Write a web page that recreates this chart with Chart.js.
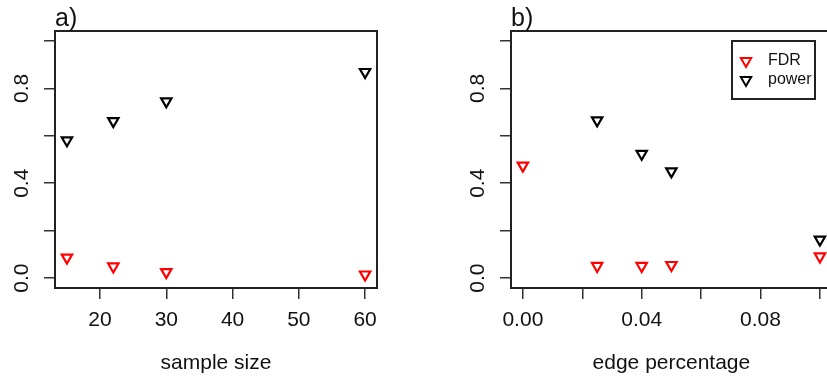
<!DOCTYPE html>
<html>
<head>
<meta charset="utf-8">
<script src="https://cdn.jsdelivr.net/npm/chart.js@4.4.1/dist/chart.umd.min.js"></script>
<style>
  html, body { margin: 0; padding: 0; background: #fff; overflow: hidden; }
  #wrap { position: relative; width: 827px; height: 381px; overflow: hidden; background: #fff; }
  #chartA { position: absolute; left: 0; top: 0; }
  #chartB { position: absolute; left: 420px; top: 0; }
</style>
</head>
<body>
<div id="wrap">
  <canvas id="chartA" width="420" height="381"></canvas>
  <canvas id="chartB" width="420" height="381"></canvas>
</div>
<script>
// panel a) : sample size
var sampleSize = [15, 22, 30, 60];
var fdrA = [0.086, 0.049, 0.025, 0.015];
var powerA = [0.581, 0.662, 0.745, 0.869];

// panel b) : edge percentage (no power value at 0)
var edgePct = [0, 0.025, 0.04, 0.05, 0.1];
var fdrB = [0.474, 0.051, 0.051, 0.055, 0.091];
var powerB = [null, 0.665, 0.524, 0.450, 0.162];

// ticks
var yTicks = [0, 0.2, 0.4, 0.6, 0.8, 1.0];
var yTickLabels = ['0.0', '', '0.4', '', '0.8', ''];
var xTicksA = [20, 30, 40, 50, 60];
var xTickLabelsA = ['20', '30', '40', '50', '60'];
var xTicksB = [0, 0.02, 0.04, 0.06, 0.08, 0.10];
var xTickLabelsB = ['0.00', '', '0.04', '', '0.08', ''];

var seriesNames = ['FDR', 'power'];
var seriesColors = ['#ff0000', '#000000'];

var FONT = '"Liberation Sans", Arial, Helvetica, sans-serif';

function toPoints(xs, ys) {
  var pts = [];
  xs.forEach(function(x, i) {
    if (ys[i] !== null) pts.push({ x: x, y: ys[i] });
  });
  return pts;
}

function markerDataset(label, color, pts) {
  return {
    label: label,
    data: pts,
    showLine: false,
    pointStyle: 'triangle',
    pointRotation: 180,
    pointRadius: 6,
    pointBorderWidth: 2.2,
    pointBorderColor: color,
    pointBackgroundColor: 'rgba(0,0,0,0)'
  };
}

// box, rotated y labels, panel letter and (optional) legend
function decorPlugin(letter, legend) {
  return {
    id: 'decor',
    afterDraw: function(chart) {
      var ctx = chart.ctx;
      var a = chart.chartArea;
      var ys = chart.scales.y;
      ctx.save();
      ctx.strokeStyle = '#222';
      ctx.lineWidth = 2;
      ctx.strokeRect(a.left, a.top, a.right - a.left, a.bottom - a.top);

      ctx.fillStyle = '#111';
      ctx.font = '21px ' + FONT;
      ctx.textAlign = 'center';
      ctx.textBaseline = 'middle';
      ys.ticks.forEach(function(t) {
        if (!t.label) return;
        var py = ys.getPixelForValue(t.value);
        ctx.save();
        ctx.translate(a.left - 33, py);
        ctx.rotate(-Math.PI / 2);
        ctx.fillText(t.label, 0, 0);
        ctx.restore();
      });

      ctx.font = '25px ' + FONT;
      ctx.textAlign = 'left';
      ctx.textBaseline = 'alphabetic';
      ctx.fillText(letter, a.left, 26);

      if (legend) {
        ctx.lineWidth = 2;
        ctx.strokeStyle = '#222';
        ctx.strokeRect(legend.x, legend.y, legend.w, legend.h);
        ctx.font = '16px ' + FONT;
        ctx.textBaseline = 'middle';
        chart.data.datasets.forEach(function(ds, i) {
          var cy = legend.y + 20 + i * 19;
          var cx = legend.x + 14;
          ctx.strokeStyle = ds.pointBorderColor;
          ctx.fillStyle = 'rgba(0,0,0,0)';
          Chart.helpers.drawPoint(ctx, {
            pointStyle: 'triangle', rotation: 180, radius: 6, borderWidth: 2.2
          }, cx, cy);
          ctx.fillStyle = '#111';
          ctx.fillText(ds.label, legend.x + 36, cy);
        });
      }
      ctx.restore();
    }
  };
}

function makeOptions(xMin, xMax, xTicks, xLabels, yAxisWidth, rightPad, xTitle) {
  return {
    responsive: false,
    animation: false,
    events: [],
    layout: { padding: { top: 31, right: rightPad, bottom: 0, left: 0 } },
    plugins: { legend: { display: false }, tooltip: { enabled: false } },
    scales: {
      x: {
        type: 'linear',
        min: xMin,
        max: xMax,
        afterBuildTicks: function(scale) {
          scale.ticks = xTicks.map(function(v) { return { value: v }; });
        },
        afterFit: function(scale) { scale.height = 93; },
        border: { display: false },
        grid: { drawOnChartArea: false, drawTicks: true, tickLength: 11, color: '#333', lineWidth: 1.5 },
        ticks: {
          padding: 9,
          color: '#111',
          maxRotation: 0,
          autoSkip: false,
          font: { family: FONT, size: 21 },
          callback: function(value, index) { return xLabels[index]; }
        },
        title: {
          display: true,
          text: xTitle,
          color: '#111',
          font: { family: FONT, size: 21 },
          padding: { top: 0, bottom: 5 }
        }
      },
      y: {
        type: 'linear',
        min: -0.042,
        max: 1.042,
        afterBuildTicks: function(scale) {
          scale.ticks = yTicks.map(function(v) { return { value: v }; });
        },
        afterFit: function(scale) { scale.width = yAxisWidth; },
        border: { display: false },
        grid: { drawOnChartArea: false, drawTicks: true, tickLength: 11, color: '#333', lineWidth: 1.5 },
        ticks: {
          display: false,
          callback: function(value, index) { return yTickLabels[index]; }
        }
      }
    }
  };
}

new Chart(document.getElementById('chartA'), {
  type: 'scatter',
  data: {
    datasets: [
      markerDataset(seriesNames[0], seriesColors[0], toPoints(sampleSize, fdrA)),
      markerDataset(seriesNames[1], seriesColors[1], toPoints(sampleSize, powerA))
    ]
  },
  options: makeOptions(13.2, 61.8, xTicksA, xTickLabelsA, 55, 43, 'sample size'),
  plugins: [decorPlugin('a)', null)]
});

new Chart(document.getElementById('chartB'), {
  type: 'scatter',
  data: {
    datasets: [
      markerDataset(seriesNames[0], seriesColors[0], toPoints(edgePct, fdrB)),
      markerDataset(seriesNames[1], seriesColors[1], toPoints(edgePct, powerB))
    ]
  },
  options: makeOptions(-0.004, 0.104, xTicksB, xTickLabelsB, 91, 7, 'edge percentage'),
  plugins: [decorPlugin('b)', { x: 312, y: 41, w: 83, h: 58 })]
});
</script>
</body>
</html>
